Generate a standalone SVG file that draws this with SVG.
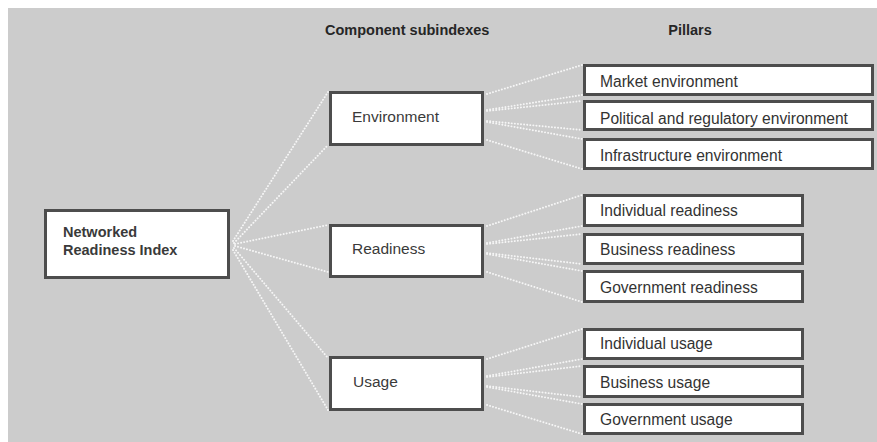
<svg xmlns="http://www.w3.org/2000/svg" width="877" height="442" viewBox="0 0 877 442">
  <style>
    .box { fill: #ffffff; stroke: #4d4d4d; stroke-width: 3; }
    .hdr { font-family: "Liberation Sans", Arial, sans-serif; font-size: 14.5px; font-weight: bold; fill: #262626; }
    .lbl { font-family: "Liberation Sans", Arial, sans-serif; font-size: 15.5px; fill: #3a3a3a; }
    .lblb { font-family: "Liberation Sans", Arial, sans-serif; font-size: 14.5px; font-weight: bold; fill: #3a3a3a; }
    .pil { font-family: "Liberation Sans", Arial, sans-serif; font-size: 15.6px; fill: #333333; }
    .dot { fill: none; stroke: #f6f6f6; stroke-width: 1.9; stroke-linecap: round; stroke-dasharray: 0.1 3; }
  </style>

  <!-- panel background -->
  <rect x="8" y="8" width="869" height="434" fill="#cccccc"/>

  <!-- column headings -->
  <text class="hdr" x="325" y="35">Component subindexes</text>
  <text class="hdr" x="690" y="35" text-anchor="middle">Pillars</text>

  <!-- dotted connectors -->
  <g id="connectors">
    <line class="dot" x1="233" y1="241" x2="328" y2="92"/>
    <line class="dot" x1="234" y1="243" x2="328" y2="145"/>
    <line class="dot" x1="235" y1="244" x2="328" y2="225"/>
    <line class="dot" x1="235" y1="246" x2="328" y2="272"/>
    <line class="dot" x1="234" y1="248" x2="328" y2="358"/>
    <line class="dot" x1="233" y1="250" x2="328" y2="410"/>

    <line class="dot" x1="487" y1="94" x2="582" y2="65"/>
    <line class="dot" x1="487" y1="110" x2="582" y2="95"/>
    <line class="dot" x1="487" y1="111" x2="582" y2="101"/>
    <line class="dot" x1="487" y1="121" x2="582" y2="130"/>
    <line class="dot" x1="487" y1="122" x2="582" y2="139"/>
    <line class="dot" x1="487" y1="140" x2="582" y2="169"/>

    <line class="dot" x1="487" y1="226" x2="582" y2="195"/>
    <line class="dot" x1="487" y1="243" x2="582" y2="226"/>
    <line class="dot" x1="487" y1="244" x2="582" y2="234"/>
    <line class="dot" x1="487" y1="253" x2="582" y2="264"/>
    <line class="dot" x1="487" y1="254" x2="582" y2="271"/>
    <line class="dot" x1="487" y1="272" x2="582" y2="302"/>

    <line class="dot" x1="487" y1="359" x2="582" y2="329"/>
    <line class="dot" x1="487" y1="376" x2="582" y2="359"/>
    <line class="dot" x1="487" y1="377" x2="582" y2="366"/>
    <line class="dot" x1="487" y1="386" x2="582" y2="397"/>
    <line class="dot" x1="487" y1="387" x2="582" y2="404"/>
    <line class="dot" x1="487" y1="405" x2="582" y2="434"/>
  </g>

  <!-- index -->
  <g id="nri">
    <rect class="box" x="45.5" y="210.5" width="183" height="67"/>
    <text class="lblb" x="63" y="237">Networked</text>
    <text class="lblb" x="63" y="255">Readiness Index</text>
  </g>

  <!-- component subindexes -->
  <g id="environment">
    <rect class="box" x="330.5" y="92.5" width="152" height="52"/>
    <text class="lbl" x="352" y="122">Environment</text>
  </g>
  <g id="readiness">
    <rect class="box" x="330.5" y="225.5" width="152" height="51"/>
    <text class="lbl" x="352" y="254">Readiness</text>
  </g>
  <g id="usage">
    <rect class="box" x="330.5" y="357.5" width="152" height="52"/>
    <text class="lbl" x="353" y="387">Usage</text>
  </g>

  <!-- pillars -->
  <g id="market-environment">
    <rect class="box" x="584.5" y="65.5" width="288" height="29"/>
    <text class="pil" x="600" y="87">Market environment</text>
  </g>
  <g id="political-regulatory-environment">
    <rect class="box" x="584.5" y="101.5" width="288" height="28"/>
    <text class="pil" x="600" y="124">Political and regulatory environment</text>
  </g>
  <g id="infrastructure-environment">
    <rect class="box" x="584.5" y="139.5" width="288" height="29"/>
    <text class="pil" x="600" y="161">Infrastructure environment</text>
  </g>

  <g id="individual-readiness">
    <rect class="box" x="584.5" y="195.5" width="218" height="30"/>
    <text class="pil" x="600" y="216">Individual readiness</text>
  </g>
  <g id="business-readiness">
    <rect class="box" x="584.5" y="234.5" width="218" height="29"/>
    <text class="pil" x="600" y="255">Business readiness</text>
  </g>
  <g id="government-readiness">
    <rect class="box" x="584.5" y="271.5" width="218" height="30"/>
    <text class="pil" x="600" y="293">Government readiness</text>
  </g>

  <g id="individual-usage">
    <rect class="box" x="584.5" y="329.5" width="218" height="29"/>
    <text class="pil" x="600" y="349">Individual usage</text>
  </g>
  <g id="business-usage">
    <rect class="box" x="584.5" y="366.5" width="218" height="30"/>
    <text class="pil" x="600" y="388">Business usage</text>
  </g>
  <g id="government-usage">
    <rect class="box" x="584.5" y="404.5" width="218" height="29"/>
    <text class="pil" x="600" y="425">Government usage</text>
  </g>
</svg>
